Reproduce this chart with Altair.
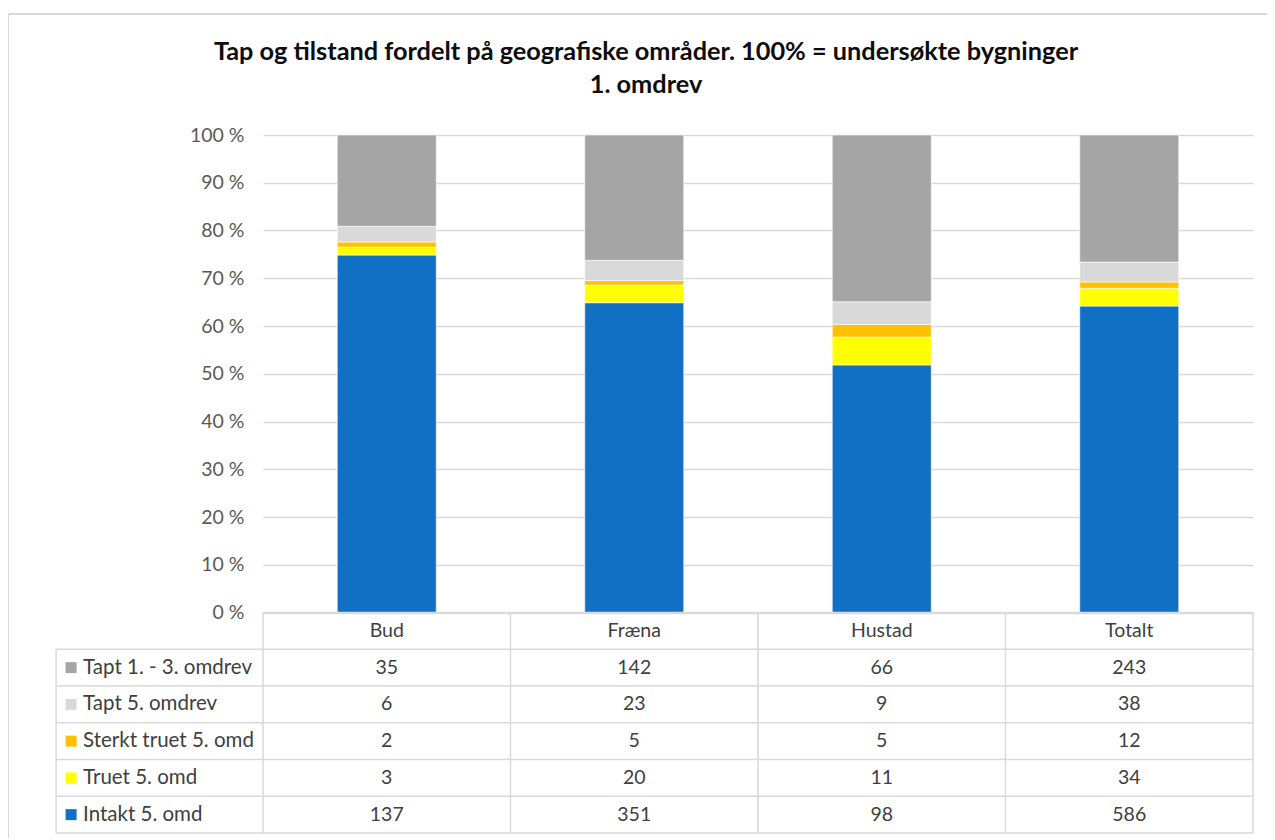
import altair as alt
import pandas as pd

# ---------------- data ----------------
categories = ["Bud", "Fræna", "Hustad", "Totalt"]
series = ["Intakt 5. omd", "Truet 5. omd", "Sterkt truet 5. omd",
          "Tapt 5. omdrev", "Tapt 1. - 3. omdrev"]          # bottom -> top
colors = ["#1170C4", "#FFFF00", "#FFC000", "#D9D9D9", "#A5A5A5"]

intakt = [137, 351, 98, 586]
truet = [3, 20, 11, 34]
sterkt_truet = [2, 5, 5, 12]
tapt_5 = [6, 23, 9, 38]
tapt_1_3 = [35, 142, 66, 243]

values_by_series = [intakt, truet, sterkt_truet, tapt_5, tapt_1_3]

rows = []
for si, (s, vals) in enumerate(zip(series, values_by_series)):
    for ci, (c, v) in enumerate(zip(categories, vals)):
        rows.append({"cat": c, "ci": ci, "series": s, "si": si, "value": v})
df = pd.DataFrame(rows)
df_cats = pd.DataFrame({"cat": categories, "ci": list(range(len(categories)))})
df_series = pd.DataFrame({"series": series, "si": list(range(len(series)))})

# ---------------- layout constants ----------------
W, H = 990, 477.5
RH = 36.75 / H          # table row height in y-units
NROW = 6
LEFT = -0.836           # label column left edge in x-units
GRID = "#D9D9D9"
FONT = "Lato"
FS = 19.5

xs = alt.Scale(domain=[0, 4], nice=False, zero=False)
ys = alt.Scale(domain=[0, 1], nice=False, zero=False)
color_scale = alt.Scale(domain=series, range=colors)

# ---------------- bars ----------------
bars = alt.Chart(df).transform_joinaggregate(
    total="sum(value)", groupby=["cat"]
).transform_stack(
    stack="value", groupby=["cat"], sort=[alt.SortField("si")], as_=["v0", "v1"]
).transform_calculate(
    y0="datum.v0 / datum.total", y1="datum.v1 / datum.total",
    x0="datum.ci + 0.3", x1="datum.ci + 0.7"
).mark_rect(stroke="white", strokeWidth=0.6).encode(
    x=alt.X("x0:Q", scale=xs, axis=None),
    x2="x1:Q",
    y=alt.Y("y0:Q", scale=ys, axis=alt.Axis(
        values=[i / 10 for i in range(11)],
        labelExpr="format(datum.value * 100, 'd') + ' %'",
        domain=False, ticks=False, grid=True, gridColor=GRID, gridWidth=1.5,
        labelFont=FONT, labelFontSize=FS, labelColor="#595959", labelPadding=19,
        title=None)),
    y2="y1:Q",
    color=alt.Color("series:N", scale=color_scale, legend=None),
)

# ---------------- table lines ----------------
hl = []
for k in range(NROW + 1):
    hl.append({"x0": 0.0 if k == 0 else LEFT, "x1": 4.0, "y0": -k * RH, "y1": -k * RH})
vl = [{"x0": LEFT, "x1": LEFT, "y0": -RH, "y1": -NROW * RH}]
for i in range(5):
    vl.append({"x0": float(i), "x1": float(i), "y0": 0.0, "y1": -NROW * RH})
lines_df = pd.DataFrame(hl + vl)

table_lines = alt.Chart(lines_df).mark_rule(color=GRID, strokeWidth=1.5).encode(
    x=alt.X("x0:Q", scale=xs), x2="x1:Q",
    y=alt.Y("y0:Q", scale=ys), y2="y1:Q",
)

# ---------------- table text ----------------
header = alt.Chart(df_cats).transform_calculate(
    tx="datum.ci + 0.5", ty=f"-0.5 * {RH}"
).mark_text(font=FONT, fontSize=FS, color="#404040", baseline="middle").encode(
    x=alt.X("tx:Q", scale=xs), y=alt.Y("ty:Q", scale=ys), text="cat:N"
)

cells = alt.Chart(df).transform_calculate(
    tx="datum.ci + 0.5", ty=f"-(5 - datum.si + 0.5) * {RH}"
).mark_text(font=FONT, fontSize=FS, color="#404040", baseline="middle").encode(
    x=alt.X("tx:Q", scale=xs), y=alt.Y("ty:Q", scale=ys), text="value:Q"
)

row_labels = alt.Chart(df_series).transform_calculate(
    tx=f"{LEFT}", ty=f"-(5 - datum.si + 0.5) * {RH}"
).mark_text(font=FONT, fontSize=20.5, color="#404040", baseline="middle",
            align="left", dx=27).encode(
    x=alt.X("tx:Q", scale=xs), y=alt.Y("ty:Q", scale=ys), text="series:N"
)

keys = alt.Chart(df_series).transform_calculate(
    tx=f"{LEFT}", ty=f"-(5 - datum.si + 0.5) * {RH}"
).mark_square(size=121, opacity=1, xOffset=15).encode(
    x=alt.X("tx:Q", scale=xs), y=alt.Y("ty:Q", scale=ys),
    color=alt.Color("series:N", scale=color_scale, legend=None),
)

# ---------------- outer chart frame (decoration) ----------------
frame = alt.Chart(pd.DataFrame({"f": [0]})).mark_rect(
    fill=None, stroke=GRID, strokeWidth=2
).encode(
    x=alt.value(-255), x2=alt.value(1300), y=alt.value(-121), y2=alt.value(760)
)

chart = alt.layer(
    frame, bars, table_lines, header, cells, keys, row_labels
).properties(
    width=W, height=H,
    padding={"left": 255, "top": 127, "right": 14, "bottom": 225},
    autosize=alt.AutoSizeParams(type="none"),
    title=alt.Title(
        ["Tap og tilstand fordelt på geografiske områder. 100% = undersøkte bygninger",
         "1. omdrev"],
        anchor="middle", dx=-112, dy=125, fontSize=25.3, font=FONT, fontWeight="bold",
        color="#0D0D0D", lineHeight=33, offset=40),
).configure_view(stroke=None)

chart.save("out.html", embed_options={"renderer": "svg", "actions": False})
